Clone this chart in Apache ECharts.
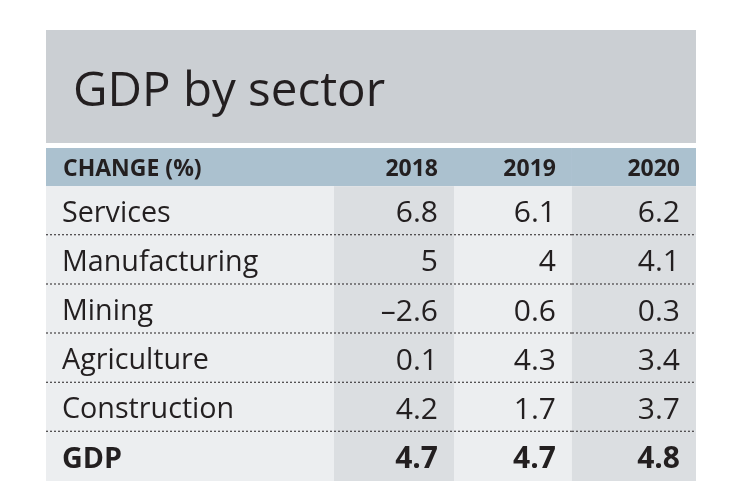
<!DOCTYPE html>
<html><head><meta charset="utf-8">
<script src="https://cdn.jsdelivr.net/npm/echarts@6/dist/echarts.min.js"></script>
<style>html,body{margin:0;padding:0;background:#fff}#c{width:747px;height:498px}</style>
</head><body><div id="c"></div>
<script>
const titleText = 'GDP by sector';
const headerLabel = 'CHANGE (%)';
const years = ['2018', '2019', '2020'];
const sectors = ['Services', 'Manufacturing', 'Mining', 'Agriculture', 'Construction', 'GDP'];
const v2018 = [6.8, 5, -2.6, 0.1, 4.2, 4.7];
const v2019 = [6.1, 4, 0.6, 4.3, 1.7, 4.7];
const v2020 = [6.2, 4.1, 0.3, 3.4, 3.7, 4.8];

const valueCols = [v2018, v2019, v2020];
const fmt = v => String(v).replace('-', '\u2013');

// cells: [col, row, text]; row -1 = header
const cells = [];
cells.push([0, -1, headerLabel]);
years.forEach((y, i) => cells.push([i + 1, -1, y]));
sectors.forEach((s, r) => {
  cells.push([0, r, s]);
  valueCols.forEach((arr, c) => cells.push([c + 1, r, fmt(arr[r])]));
});

const colEdges = [0, 2.4, 3.4, 4.383, 5.4167];
const headerTop = -0.776;
const lastRow = sectors.length - 1;
const FONT = '"Open Sans", "Noto Sans", sans-serif';
const INK = '#231f20';

function renderItem(params, api) {
  const c = api.value(0), r = api.value(1);
  const text = cells[params.dataIndex][2];
  const y0 = r < 0 ? headerTop : r, y1 = r < 0 ? 0 : r + 1;
  const p0 = api.coord([colEdges[c], y0]);
  const p1 = api.coord([colEdges[c + 1], y1]);
  const x = p0[0], y = p0[1], w = p1[0] - p0[0], h = p1[1] - p0[1];
  let fill;
  if (r < 0) fill = '#abc1cf';
  else fill = (c === 1 || c === 3) ? '#dbdee1' : '#eceef0';
  const children = [{
    type: 'rect', shape: { x: x, y: y, width: w, height: h }, style: { fill: fill }
  }];
  const bold = r < 0 || r === lastRow;
  const size = r < 0 ? 23 : (c === 0 ? 28.7 : 30);
  children.push({
    type: 'text',
    style: {
      text: text,
      x: c === 0 ? x + (r < 0 ? 17 : 16) : x + w - 16,
      y: y + h / 2 + (r < 0 ? 2 : 3),
      align: c === 0 ? 'left' : 'right',
      verticalAlign: 'middle',
      font: (bold ? 'bold ' : 'normal ') + size + 'px ' + FONT,
      fill: INK
    }
  });
  if (r >= 0 && r < lastRow) {
    children.push({
      type: 'line',
      shape: { x1: x, y1: y + h, x2: x + w, y2: y + h },
      style: { stroke: '#231f20', lineWidth: 2, lineDash: [2, 2] }
    });
  }
  return { type: 'group', children: children };
}

const chart = echarts.init(document.getElementById('c'), null, { renderer: 'canvas' });
chart.setOption({
  animation: false,
  backgroundColor: '#ffffff',
  graphic: [{
    type: 'rect', left: 46, top: 30, shape: { width: 650, height: 113 }, style: { fill: '#cbcfd3' }, z: -1
  }],
  title: {
    text: titleText, left: 73, top: 68, padding: 0,
    textStyle: { fontFamily: FONT, fontWeight: 'normal', fontSize: 47.5, color: INK }
  },
  grid: { left: 46, right: 51, top: 148, bottom: 17 },
  xAxis: { type: 'value', min: 0, max: 5.4167, show: false },
  yAxis: { type: 'value', min: headerTop, max: sectors.length, inverse: true, show: false },
  series: [{
    type: 'custom', renderItem: renderItem, clip: false,
    encode: { x: 0, y: 1 },
    data: cells.map(d => [d[0], d[1]])
  }]
});
</script></body></html>
